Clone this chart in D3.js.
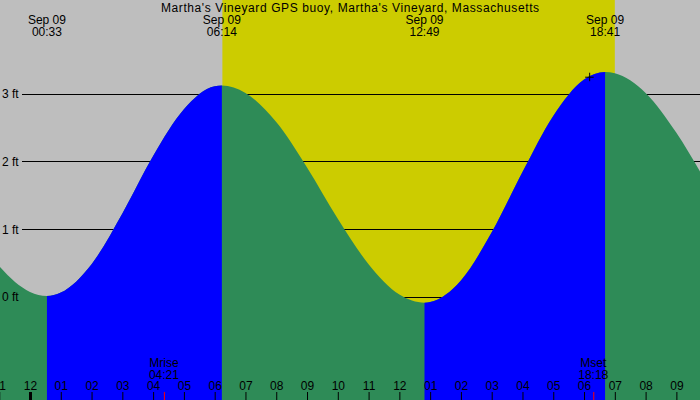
<!DOCTYPE html>
<html>
<head>
<meta charset="utf-8">
<script src="https://cdn.jsdelivr.net/npm/d3@7"></script>
<style>
  html, body { margin: 0; padding: 0; background: #fff; }
  svg { display: block; }
  text { font-family: "Liberation Sans", Arial, sans-serif; font-size: 12px; fill: #000; }
</style>
</head>
<body>
<svg id="chart" width="700" height="400"></svg>
<script>
// ---------------- data ----------------
const title = "Martha's Vineyard GPS buoy, Martha's Vineyard, Massachusetts";

// tide extremes (high / low)
const extremeTimes   = ["2024-09-08 18:14", "2024-09-09 00:33", "2024-09-09 06:14", "2024-09-09 12:49", "2024-09-09 18:41", "2024-09-10 01:22"];
const extremeHeights = [3.10, 0.02, 3.13, -0.08, 3.33, 0.00];
const extremeTypes   = ["H", "L", "H", "L", "H", "L"];

// hourly tide heights (ft)
const hourlyTimes = ["2024-09-08 22:00", "2024-09-08 23:00", "2024-09-09 00:00", "2024-09-09 01:00", "2024-09-09 02:00",
  "2024-09-09 03:00", "2024-09-09 04:00", "2024-09-09 05:00", "2024-09-09 06:00", "2024-09-09 07:00", "2024-09-09 08:00",
  "2024-09-09 09:00", "2024-09-09 10:00", "2024-09-09 11:00", "2024-09-09 12:00", "2024-09-09 13:00", "2024-09-09 14:00",
  "2024-09-09 15:00", "2024-09-09 16:00", "2024-09-09 17:00", "2024-09-09 18:00", "2024-09-09 19:00", "2024-09-09 20:00",
  "2024-09-09 21:00", "2024-09-09 22:00", "2024-09-09 23:00"];
const hourlyHeights = [1.10, 0.46, 0.08, 0.07, 0.49, 1.24, 2.09, 2.78, 3.12, 3.02, 2.59, 1.92, 1.16, 0.49, 0.04, -0.07,
  0.25, 0.96, 1.85, 2.68, 3.22, 3.31, 3.02, 2.43, 1.68, 0.92];

// daylight
const sunrise = "2024-09-09 06:15";
const sunset  = "2024-09-09 19:00";

// moon events
const moonTimes  = ["2024-09-09 04:21", "2024-09-09 18:18"];
const moonLabels = ["Mrise", "Mset"];

// current-time marker on the curve
const markerTime = "2024-09-09 18:10";
const markerHeight = 3.26;

// y axis ticks
const yTickValues = [0, 1, 2, 3];
const yTickLabels = ["0 ft", "1 ft", "2 ft", "3 ft"];

// x axis hour ticks
const hourTickStart = "2024-09-08 23:00";
const hourTickEnd   = "2024-09-09 23:00";
const dayStart = "2024-09-09 00:00";
const dayEnd   = "2024-09-10 00:00";

// ---------------- drawing ----------------
const W = 700, H = 400;
const parse = d3.timeParse("%Y-%m-%d %H:%M");
const svg = d3.select("#chart");

const x = d3.scaleTime()
  .domain([parse(dayStart), parse(dayEnd)])
  .range([30.0, 30.0 + 24 * 30.78]);
const y = d3.scaleLinear().domain([0, 3]).range([297.3, 94.3]);

const colors = { night: "#bebebe", day: "#cccc00", falling: "#2e8b57", rising: "#0000ff" };

// background
svg.append("rect").attr("x", 0).attr("y", 0).attr("width", W).attr("height", H).attr("fill", colors.night);
svg.append("rect")
  .attr("x", x(parse(sunrise))).attr("y", 0)
  .attr("width", x(parse(sunset)) - x(parse(sunrise))).attr("height", H)
  .attr("fill", colors.day);

// grid lines
svg.append("g").selectAll("line").data(yTickValues).join("line")
  .attr("x1", 22).attr("x2", W)
  .attr("y1", d => Math.floor(y(d)) + 0.5).attr("y2", d => Math.floor(y(d)) + 0.5)
  .attr("stroke", "#000").attr("stroke-width", 1).attr("shape-rendering", "crispEdges");

// tide series
const extremes = extremeTimes.map((t, i) => ({ t: parse(t), h: extremeHeights[i], type: extremeTypes[i] }));
const pts = hourlyTimes.map((t, i) => ({ t: parse(t), h: hourlyHeights[i] }))
  .concat(extremes.map(e => ({ t: e.t, h: e.h })))
  .sort((a, b) => a.t - b.t);

const area = d3.area()
  .x(d => x(d.t)).y0(H).y1(d => y(d.h))
  .curve(d3.curveMonotoneX);

// rising-tide clip (low -> next high)
const defs = svg.append("defs");
const clip = defs.append("clipPath").attr("id", "rising");
const risingSpans = [];
extremes.forEach((e, i) => {
  if (e.type === "L" && i + 1 < extremes.length) risingSpans.push([e.t, extremes[i + 1].t]);
});
clip.selectAll("rect").data(risingSpans).join("rect")
  .attr("x", d => x(d[0])).attr("y", 0)
  .attr("width", d => x(d[1]) - x(d[0])).attr("height", H);

svg.append("path").datum(pts).attr("d", area).attr("fill", colors.falling);
svg.append("path").datum(pts).attr("d", area).attr("fill", colors.rising).attr("clip-path", "url(#rising)");

// y labels
svg.append("g").selectAll("text").data(yTickValues).join("text")
  .attr("x", 2).attr("y", d => y(d) + 4)
  .text((d, i) => yTickLabels[i]);

// title
svg.append("text").attr("x", W / 2 + 0.3).attr("y", 12).attr("text-anchor", "middle")
  .style("letter-spacing", "0.6px").text(title);

// extreme labels at top
const fmtDay = d3.timeFormat("%b %d"), fmtTime = d3.timeFormat("%H:%M");
const visibleExtremes = extremes.filter(e => x(e.t) >= 0 && x(e.t) <= W);
const tl = svg.append("g").selectAll("g").data(visibleExtremes).join("g")
  .attr("transform", d => `translate(${x(d.t)},0)`);
tl.append("text").attr("y", 24).attr("text-anchor", "middle").text(d => fmtDay(d.t));
tl.append("text").attr("y", 36).attr("text-anchor", "middle").text(d => fmtTime(d.t));

// hour axis
const axis = d3.axisTop(x)
  .tickValues(d3.timeHour.range(parse(hourTickStart), parse(hourTickEnd)))
  .tickFormat(d3.timeFormat("%I"))
  .tickSize(8).tickPadding(2);
const ax = svg.append("g").attr("transform", `translate(0,${H})`).call(axis);
ax.select(".domain").remove();
ax.selectAll("text").attr("font-family", null).attr("font-size", null).style("font-size", "12px");
ax.selectAll(".tick line").attr("stroke", "#000")
  .attr("stroke-width", d => d.getHours() === 0 ? 3 : 1);

// moon events
const mg = svg.append("g").selectAll("g").data(moonTimes.map((t, i) => ({ t: parse(t), label: moonLabels[i] })))
  .join("g").attr("transform", d => `translate(${x(d.t)},0)`);
mg.append("line").attr("x1", 0.5).attr("x2", 0.5).attr("y1", H - 8).attr("y2", H)
  .attr("stroke", "#ff0000").attr("stroke-width", 1);
mg.append("text").attr("y", 366.5).attr("text-anchor", "middle").text(d => d.label);
mg.append("text").attr("y", 378.5).attr("text-anchor", "middle").text(d => fmtTime(d.t));

// marker
svg.append("path")
  .attr("transform", `translate(${x(parse(markerTime))},${y(markerHeight)})`)
  .attr("d", "M-4,0.5H4.5M0.5,-4V4.5")
  .attr("stroke", "#000").attr("stroke-width", 1).attr("fill", "none");
</script>
</body>
</html>
